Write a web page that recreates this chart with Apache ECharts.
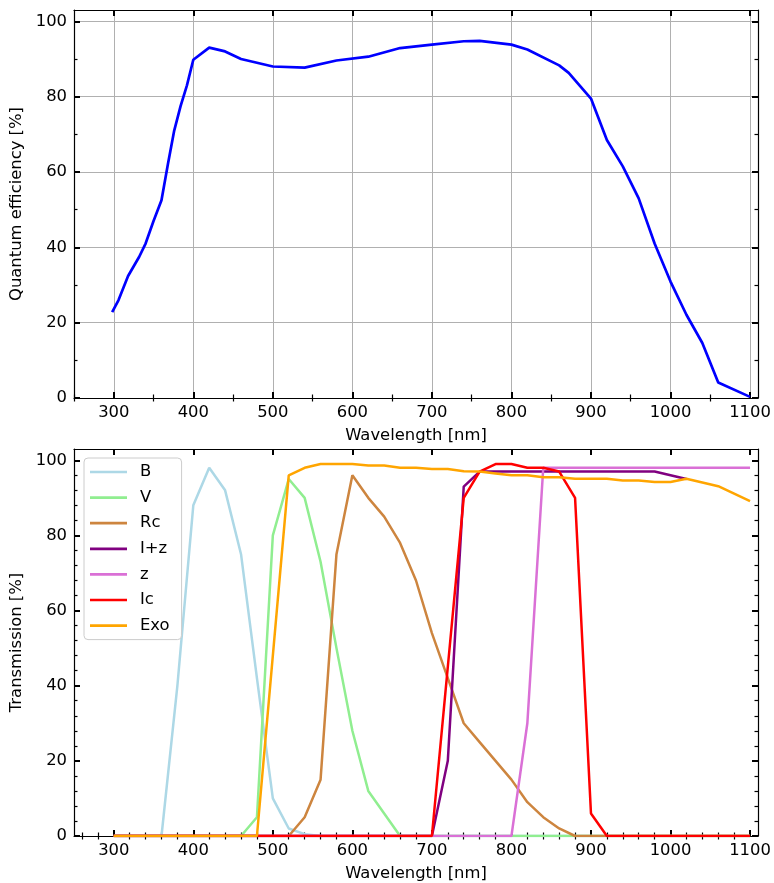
<!DOCTYPE html>
<html>
<head>
<meta charset="utf-8">
<script src="https://cdn.jsdelivr.net/npm/echarts@6/dist/echarts.min.js"></script>
<style>
  html, body { margin: 0; padding: 0; background: #fff; }
  #main { width: 774px; height: 883px; }
</style>
</head>
<body>
<div id="main"></div>
<script>
// top panel: CCD quantum efficiency
const qeWavelength = [298, 306, 318, 332, 340, 350, 360, 368, 376, 384, 392, 400, 420, 440, 460, 500, 540, 580, 620, 660, 700, 740, 760, 800, 820, 860, 872, 900, 920, 940, 960, 980, 1000, 1020, 1040, 1060, 1100];
const qeValues = [22.8, 26, 32.4, 37.5, 41, 47, 52.5, 62, 71, 77.5, 83, 89.8, 93, 92, 90, 88, 87.7, 89.6, 90.6, 92.9, 93.8, 94.7, 94.8, 93.8, 92.5, 88.3, 86.3, 79.5, 68.5, 61.5, 53, 41, 30.9, 22.1, 14.6, 4.1, 0.3];

// bottom panel: filter transmission, sampled every 20 nm
const filterWavelength = [300, 320, 340, 360, 380, 400, 420, 440, 460, 480, 500, 520, 540, 560, 580, 600, 620, 640, 660, 680, 700, 720, 740, 760, 780, 800, 820, 840, 860, 880, 900, 920, 940, 960, 980, 1000, 1020, 1040, 1060, 1080, 1100];
const bValues = [0, 0, 0, 0, 40, 88, 98, 92, 75, 42, 10, 2, 0.5, 0, 0, 0, 0, 0, 0, 0, 0, 0, 0, 0, 0, 0, 0, 0, 0, 0, 0, 0, 0, 0, 0, 0, 0, 0, 0, 0, 0];
const vValues = [0, 0, 0, 0, 0, 0, 0, 0, 0, 5, 80, 95, 90, 73, 50, 28, 12, 6, 0, 0, 0, 0, 0, 0, 0, 0, 0, 0, 0, 0, 0, 0, 0, 0, 0, 0, 0, 0, 0, 0, 0];
const rcValues = [0, 0, 0, 0, 0, 0, 0, 0, 0, 0, 0, 0, 5, 15, 75, 96, 90, 85, 78, 68, 54, 42, 30, 25, 20, 15, 9, 5, 2, 0, 0, 0, 0, 0, 0, 0, 0, 0, 0, 0, 0];
const izValues = [0, 0, 0, 0, 0, 0, 0, 0, 0, 0, 0, 0, 0, 0, 0, 0, 0, 0, 0, 0, 0, 20, 93, 97, 97, 97, 97, 97, 97, 97, 97, 97, 97, 97, 97, 96, 95];
const zValues = [0, 0, 0, 0, 0, 0, 0, 0, 0, 0, 0, 0, 0, 0, 0, 0, 0, 0, 0, 0, 0, 0, 0, 0, 0, 0, 30, 98, 98, 98, 98, 98, 98, 98, 98, 98, 98, 98, 98, 98, 98];
const icValues = [0, 0, 0, 0, 0, 0, 0, 0, 0, 0, 0, 0, 0, 0, 0, 0, 0, 0, 0, 0, 0, 45, 90, 97, 99, 99, 98, 98, 97, 90, 6, 0, 0, 0, 0, 0, 0, 0, 0, 0, 0];
const exoValues = [0, 0, 0, 0, 0, 0, 0, 0, 0, 0, 48, 96, 98, 99, 99, 99, 98.6, 98.6, 98, 98, 97.7, 97.7, 97.1, 97, 96.5, 96, 96, 95.5, 95.5, 95.1, 95.1, 95.1, 94.6, 94.6, 94.2, 94.2, 95.1, 94.1, 93.1, 91.1, 89.1];

const filterNames = ['B', 'V', 'Rc', 'I+z', 'z', 'Ic', 'Exo'];
const filterColors = ['#add8e6', '#90ee90', '#cd853f', '#800080', '#da70d6', '#ff0000', '#ffa500'];
const filterValues = [bValues, vValues, rcValues, izValues, zValues, icValues, exoValues];

// ticks
const xMajorTicks = [300, 400, 500, 600, 700, 800, 900, 1000, 1100];
const xMinorTop = [250, 350, 450, 550, 650, 750, 850, 950, 1050];
const xMinorBottom = [260, 280, 320, 340, 360, 380, 420, 440, 460, 480, 520, 540, 560, 580, 620, 640, 660, 680, 720, 740, 760, 780, 820, 840, 860, 880, 920, 940, 960, 980, 1020, 1040, 1060, 1080];
const yMajorTicks = [0, 20, 40, 60, 80, 100];
const yMinorTop = [10, 30, 50, 70, 90];
const yMinorBottom = [4, 8, 12, 16, 24, 28, 32, 36, 44, 48, 52, 56, 64, 68, 72, 76, 84, 88, 92, 96];

const FONT = 'DejaVu Sans';
const FS = 16.4;
const xRange = [250, 1110];
const yRange = [0, 103];

function pairs(xs, ys) {
  return ys.map((v, i) => [xs[i], v]);
}

function axisSet(dim, grid, range, minorVals, name, showGrid) {
  const isX = dim === 'x';
  const base = { type: 'value', gridIndex: grid, min: range[0], max: range[1] };
  const line = { show: true, onZero: false, lineStyle: { color: '#000', width: 1.2 } };
  const majorVals = isX ? xMajorTicks : yMajorTicks;
  const major = { show: true, inside: true, length: 6, lineStyle: { color: '#000', width: 2 }, customValues: majorVals };
  const minor = { show: true, inside: true, length: 3.5, lineStyle: { color: '#000', width: 1.2 }, customValues: minorVals };
  const pos = isX ? ['bottom', 'top'] : ['left', 'right'];
  return [
    Object.assign({}, base, {
      position: pos[0], name: name, nameLocation: 'middle', nameGap: isX ? 30 : 46,
      nameTextStyle: { fontFamily: FONT, fontSize: FS, color: '#000' },
      axisLine: line, axisTick: major,
      axisLabel: { customValues: majorVals, margin: 7, fontFamily: FONT, fontSize: FS, color: '#000',
        formatter: v => String(v) },
      splitLine: { show: showGrid, lineStyle: { color: '#b0b0b0', width: 1 } }
    }),
    Object.assign({}, base, { position: pos[0], axisLine: { show: false }, axisTick: minor, axisLabel: { show: false }, splitLine: { show: false } }),
    Object.assign({}, base, { position: pos[1], axisLine: line, axisTick: major, axisLabel: { show: false }, splitLine: { show: false } }),
    Object.assign({}, base, { position: pos[1], axisLine: { show: false }, axisTick: minor, axisLabel: { show: false }, splitLine: { show: false } })
  ];
}

const chart = echarts.init(document.getElementById('main'));

const series = [{
  type: 'line', xAxisIndex: 0, yAxisIndex: 0,
  data: pairs(qeWavelength, qeValues),
  symbol: 'none', lineStyle: { color: '#0000ff', width: 2.7 }, z: 3
}];
filterNames.forEach((n, k) => {
  series.push({
    name: n, type: 'line', xAxisIndex: 4, yAxisIndex: 4,
    data: pairs(filterWavelength, filterValues[k]),
    symbol: 'none', color: filterColors[k],
    lineStyle: { color: filterColors[k], width: 2.5 }, z: 3 + k
  });
});

chart.setOption({
  animation: false,
  backgroundColor: '#fff',
  grid: [
    { left: 74, top: 10, width: 684, height: 388 },
    { left: 74, top: 449, width: 684, height: 388 }
  ],
  xAxis: [].concat(
    axisSet('x', 0, xRange, xMinorTop, 'Wavelength [nm]', true),
    axisSet('x', 1, xRange, xMinorBottom, 'Wavelength [nm]', false)
  ),
  yAxis: [].concat(
    axisSet('y', 0, yRange, yMinorTop, 'Quantum efficiency [%]', true),
    axisSet('y', 1, yRange, yMinorBottom, 'Transmission [%]', false)
  ),
  legend: {
    data: filterNames,
    orient: 'vertical', left: 84, top: 458,
    padding: [6, 12, 6, 6], itemGap: 9.6,
    icon: 'rect', itemWidth: 37, itemHeight: 2.7,
    backgroundColor: 'rgba(255,255,255,0.8)',
    borderColor: '#cccccc', borderWidth: 1, borderRadius: 4,
    textStyle: { fontFamily: FONT, fontSize: FS, color: '#000', padding: [0, 0, 0, 8] }
  },
  series: series
});
</script>
</body>
</html>
